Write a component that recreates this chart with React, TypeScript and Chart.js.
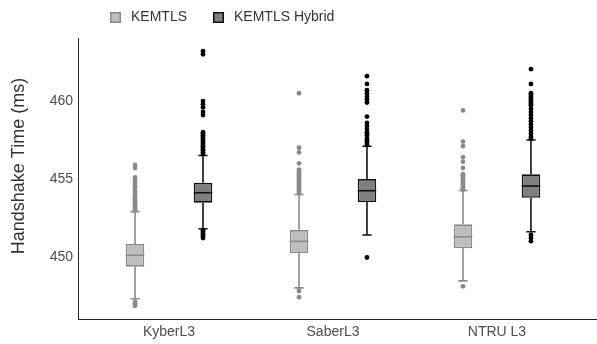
import { useEffect, useRef } from "react";
import { Chart, registerables } from "chart.js";

Chart.register(...registerables);

const categories = ["KyberL3", "SaberL3", "NTRU L3"];
const seriesNames = ["KEMTLS", "KEMTLS Hybrid"];
const yTicks = [450, 455, 460];
const yTitle = "Handshake Time (ms)";

// KEMTLS
const kemtlsQ1 = [449.36, 450.24, 450.54];
const kemtlsMedian = [450.09, 450.99, 451.28];
const kemtlsQ3 = [450.82, 451.71, 452.08];
const kemtlsLow = [447.3, 448.0, 448.45];
const kemtlsHigh = [452.9, 454.0, 454.25];
const kemtlsOutKyber = [455.9, 455.7, 455.1, 454.9, 454.7, 454.5, 454.4, 454.2, 454.1, 453.9, 453.8, 453.7, 453.6, 453.5, 453.4, 453.3, 453.2, 453.1, 453.0, 447.1, 447.0, 446.9, 446.85];
const kemtlsOutSaber = [460.5, 457.0, 456.7, 456.0, 455.6, 455.5, 455.4, 455.3, 455.2, 455.1, 455.0, 454.9, 454.8, 454.7, 454.6, 454.5, 454.4, 454.3, 454.2, 454.1, 447.8, 447.4];
const kemtlsOutNtru = [459.4, 457.4, 457.1, 456.4, 456.1, 455.7, 455.3, 455.2, 455.1, 455.0, 454.9, 454.8, 454.7, 454.6, 454.5, 454.4, 454.3, 448.1];

// KEMTLS Hybrid
const hybridQ1 = [453.47, 453.51, 453.79];
const hybridMedian = [454.11, 454.24, 454.54];
const hybridQ3 = [454.75, 454.99, 455.29];
const hybridLow = [451.8, 451.4, 451.6];
const hybridHigh = [456.5, 457.1, 457.5];
const hybridOutKyber = [463.2, 463.0, 460.0, 459.8, 459.6, 459.3, 459.1, 458.0, 457.9, 457.8, 457.7, 457.6, 457.5, 457.4, 457.3, 457.2, 457.1, 457.0, 456.9, 456.8, 456.7, 456.6, 451.7, 451.6, 451.5, 451.4, 451.3, 451.2];
const hybridOutSaber = [461.6, 461.1, 460.7, 460.5, 460.3, 460.1, 459.9, 459.0, 458.6, 458.4, 458.2, 458.0, 457.9, 457.8, 457.6, 457.5, 457.4, 457.3, 457.2, 449.95];
const hybridOutNtru = [462.05, 461.1, 460.5, 460.4, 460.3, 460.2, 460.1, 460.0, 459.9, 459.8, 459.7, 459.5, 459.3, 459.1, 458.9, 458.7, 458.5, 458.3, 458.1, 457.9, 457.7, 457.6, 451.4, 451.2, 451.0];

const FONT = "'Liberation Sans', Arial, sans-serif";

const series = [
  {
    name: seriesNames[0], q1: kemtlsQ1, med: kemtlsMedian, q3: kemtlsQ3, lo: kemtlsLow, hi: kemtlsHigh,
    out: [kemtlsOutKyber, kemtlsOutSaber, kemtlsOutNtru],
    fill: "#bebebe", line: "#8a8a8a", point: "#8a8a8a",
  },
  {
    name: seriesNames[1], q1: hybridQ1, med: hybridMedian, q3: hybridQ3, lo: hybridLow, hi: hybridHigh,
    out: [hybridOutKyber, hybridOutSaber, hybridOutNtru],
    fill: "#7f7f7f", line: "#111111", point: "#000000",
  },
];

const boxPlugin = {
  id: "boxExtras",
  beforeDatasetsDraw(chart: any) {
    const ctx = chart.ctx;
    const y = chart.scales.y;
    series.forEach((s, d) => {
      const meta = chart.getDatasetMeta(d);
      meta.data.forEach((bar: any, i: number) => {
        const x = bar.x;
        const cw = bar.width * 0.25;
        ctx.save();
        ctx.strokeStyle = s.line;
        ctx.lineWidth = 1.6;
        ctx.beginPath();
        ctx.moveTo(x, y.getPixelForValue(s.q3[i]));
        ctx.lineTo(x, y.getPixelForValue(s.hi[i]));
        ctx.moveTo(x, y.getPixelForValue(s.q1[i]));
        ctx.lineTo(x, y.getPixelForValue(s.lo[i]));
        ctx.moveTo(x - cw, y.getPixelForValue(s.hi[i]));
        ctx.lineTo(x + cw, y.getPixelForValue(s.hi[i]));
        ctx.moveTo(x - cw, y.getPixelForValue(s.lo[i]));
        ctx.lineTo(x + cw, y.getPixelForValue(s.lo[i]));
        ctx.stroke();
        ctx.fillStyle = s.point;
        s.out[i].forEach((v: number) => {
          ctx.beginPath();
          ctx.arc(x, y.getPixelForValue(v), 2.4, 0, Math.PI * 2);
          ctx.fill();
        });
        ctx.restore();
      });
    });
  },
  afterDatasetsDraw(chart: any) {
    const ctx = chart.ctx;
    const y = chart.scales.y;
    series.forEach((s, d) => {
      const meta = chart.getDatasetMeta(d);
      meta.data.forEach((bar: any, i: number) => {
        const half = bar.width / 2;
        const py = y.getPixelForValue(s.med[i]);
        ctx.save();
        ctx.strokeStyle = s.line;
        ctx.lineWidth = 1.6;
        ctx.beginPath();
        ctx.moveTo(bar.x - half, py);
        ctx.lineTo(bar.x + half, py);
        ctx.stroke();
        ctx.restore();
      });
    });
  },
  afterDraw(chart: any) {
    const ctx = chart.ctx;
    // legend
    ctx.save();
    ctx.font = `14px ${FONT}`;
    ctx.textBaseline = "middle";
    ctx.textAlign = "left";
    let x = 110;
    const yc = 17.5;
    series.forEach((s) => {
      ctx.fillStyle = s.fill;
      ctx.strokeStyle = s.line;
      ctx.lineWidth = 1.5;
      ctx.fillRect(x, yc - 5.5, 11, 11);
      ctx.strokeRect(x + 0.75, yc - 4.75, 9.5, 9.5);
      ctx.fillStyle = "#333333";
      ctx.fillText(s.name, x + 21, yc);
      x += 21 + ctx.measureText(s.name).width + 26;
    });
    ctx.restore();
    // y axis title
    ctx.save();
    ctx.font = `18px ${FONT}`;
    ctx.fillStyle = "#333333";
    ctx.textAlign = "center";
    ctx.textBaseline = "middle";
    ctx.translate(19, 166);
    ctx.rotate(-Math.PI / 2);
    ctx.fillText(yTitle, 0, 0);
    ctx.restore();
  },
};

export default function App() {
  const ref = useRef<HTMLCanvasElement | null>(null);

  useEffect(() => {
    if (!ref.current) return;
    const chart = new Chart(ref.current, {
      type: "bar",
      data: {
        datasets: series.map((s) => ({
          label: s.name,
          data: categories.map((_, i) => ({ x: i, y: [s.q1[i], s.q3[i]] })) as any,
          backgroundColor: s.fill,
          borderColor: s.line,
          borderWidth: 1.6,
          borderSkipped: false,
          categoryPercentage: 0.829,
          barPercentage: 0.272,
        })),
      },
      options: {
        responsive: false,
        animation: false,
        layout: { padding: { top: 38, left: 0, right: 0, bottom: 0 } },
        plugins: { legend: { display: false }, tooltip: { enabled: false } },
        scales: {
          x: {
            type: "linear",
            min: -0.555,
            max: 2.61,
            offset: false,
            grid: { display: false, drawTicks: false },
            border: { display: true, color: "#222222", width: 1 },
            afterBuildTicks: (axis: any) => {
              axis.ticks = categories.map((_, i) => ({ value: i }));
            },
            afterFit: (scale: any) => {
              scale.height = 25;
            },
            ticks: {
              autoSkip: false,
              maxRotation: 0,
              padding: 5,
              color: "#4d4d4d",
              font: { family: FONT, size: 14 },
              callback: (v: any) => categories[Math.round(Number(v))] ?? "",
            },
          },
          y: {
            min: 446.0,
            max: 464.05,
            grid: { display: false, drawTicks: false },
            border: { display: true, color: "#222222", width: 1 },
            afterBuildTicks: (axis: any) => {
              axis.ticks = yTicks.map((v) => ({ value: v }));
            },
            afterFit: (scale: any) => {
              scale.width = 78;
            },
            ticks: {
              padding: 5,
              color: "#4d4d4d",
              font: { family: FONT, size: 14 },
            },
          },
        },
      },
      plugins: [boxPlugin],
    });
    return () => chart.destroy();
  }, []);

  return (
    <div style={{ position: "absolute", left: 0, top: 0, width: 597, height: 344 }}>
      <canvas ref={ref} width={597} height={344} />
    </div>
  );
}
